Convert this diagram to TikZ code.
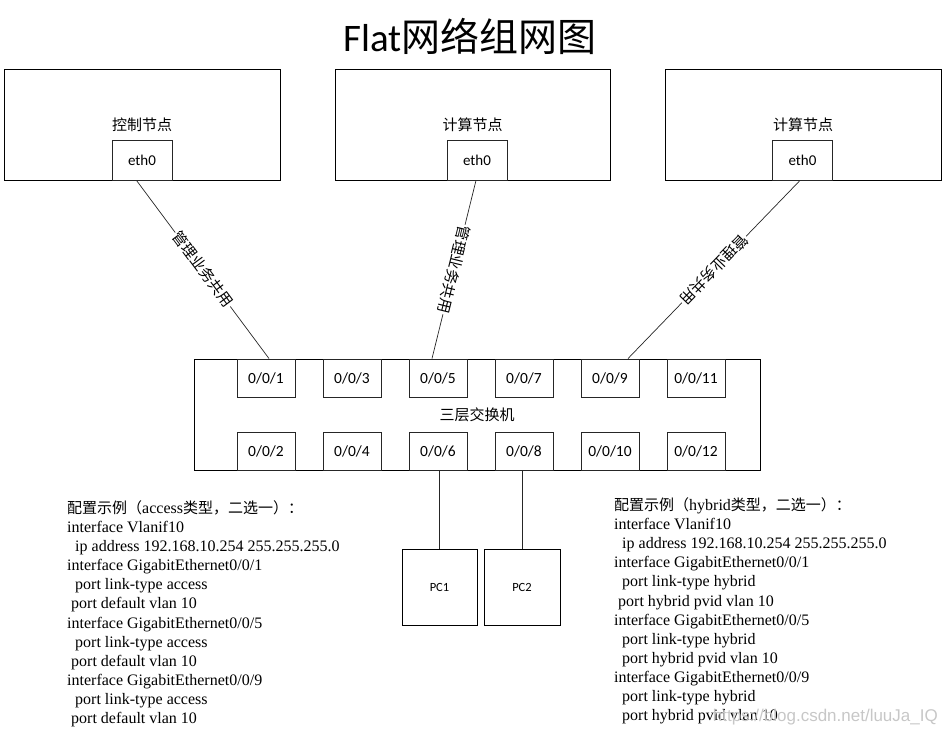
\documentclass[tikz,border=0pt]{standalone}
\usepackage{fontspec}
\setmainfont{Liberation Serif}
\newfontfamily\cjk{Noto Sans CJK SC}
\newfontfamily\calfont{Carlito}
\newfontfamily\wmfont{Liberation Sans}
\begin{document}
\begin{tikzpicture}[x=1pt,y=-1pt,
  bigbox/.style={draw=black,line width=0.9pt,fill=white,inner sep=0pt,font=\cjk\fontsize{15}{18}\selectfont},
  ethbox/.style={draw=black!85,line width=0.9pt,fill=white,minimum width=60pt,minimum height=40pt,inner sep=0pt,font=\calfont\fontsize{15}{18}\selectfont},
  portbox/.style={draw=black!85,line width=0.9pt,fill=white,minimum width=58pt,minimum height=38pt,inner sep=0pt,font=\calfont\fontsize{15.5}{18}\selectfont},
  pcbox/.style={draw=black,line width=0.9pt,fill=white,inner sep=0pt,font=\calfont\fontsize{12.5}{15}\selectfont},
  link/.style={draw=black!85,line width=0.7pt},
  linklabel/.style={sloped,allow upside down,fill=white,inner sep=1pt,font=\cjk\fontsize{15}{18}\selectfont},
  cfg/.style={anchor=base west,inner sep=0pt,font=\fontsize{16}{19}\selectfont}]
\useasboundingbox (0,0) rectangle (946,736);
% title
\node[inner sep=0pt] (title) at (470,36) {\calfont\fontsize{39}{45}\selectfont Flat\cjk 网络组网图};
% top boxes
\node[bigbox,minimum width=276pt,minimum height=111pt] (cn) at (142,124.5) {控制节点};
\node[bigbox,minimum width=275pt,minimum height=111pt] (c1) at (472.5,124.5) {计算节点};
\node[bigbox,minimum width=276pt,minimum height=111pt] (c2) at (803,124.5) {计算节点};
\node[ethbox] (e0) at (142,160) {eth0};
\node[ethbox] (e1) at (477,160) {eth0};
\node[ethbox] (e2) at (802.5,160) {eth0};
% switch
\node[bigbox,minimum width=566pt,minimum height=111pt] (sw) at (477,414.5) {三层交换机};
\node[portbox] (p1) at (266,378) {0/0/1};
\node[portbox] (p3) at (352,378) {0/0/3};
\node[portbox] (p5) at (438,378) {0/0/5};
\node[portbox] (p7) at (524,378) {0/0/7};
\node[portbox] (p9) at (610,378) {0/0/9};
\node[portbox] (p11) at (696,378) {0/0/11};
\node[portbox] (p2) at (266,451) {0/0/2};
\node[portbox] (p4) at (352,451) {0/0/4};
\node[portbox] (p6) at (438,451) {0/0/6};
\node[portbox] (p8) at (524,451) {0/0/8};
\node[portbox] (p10) at (610,451) {0/0/10};
\node[portbox] (p12) at (696,451) {0/0/12};
% PCs
\node[pcbox,minimum width=75pt,minimum height=76pt] (pc1) at (439.5,587) {PC1};
\node[pcbox,minimum width=76pt,minimum height=76pt] (pc2) at (522,587) {PC2};
% links
\draw[link] ([xshift=-5.5pt]e0.south) -- node[linklabel] {管理业务共用} ([xshift=3pt]p1.north);
\draw[link] ([xshift=-1pt]e1.south) -- node[linklabel] {管理业务共用} ([xshift=-6pt]p5.north);
\draw[link] ([xshift=-2.5pt]e2.south) -- node[linklabel] {管理业务共用} ([xshift=18pt]p9.north);
\draw[link] (pc1.north) -- (pc1.north |- p6.south);
\draw[link] (pc2.north) -- (pc2.north |- p8.south);
% left config
\node[cfg] (l1) at (67,513) {{\cjk\fontsize{15}{19}\selectfont 配置示例（}access{\cjk\fontsize{15}{19}\selectfont 类型，二选一）：}};
\node[cfg] (l2) at (67,532) {interface Vlanif10};
\node[cfg] (l3) at (75,551) {ip address 192.168.10.254 255.255.255.0};
\node[cfg] (l4) at (67,570) {interface GigabitEthernet0/0/1};
\node[cfg] (l5) at (75,589) {port link-type access};
\node[cfg] (l6) at (71,608) {port default vlan 10};
\node[cfg] (l7) at (67,628) {interface GigabitEthernet0/0/5};
\node[cfg] (l8) at (75,647) {port link-type access};
\node[cfg] (l9) at (71,666) {port default vlan 10};
\node[cfg] (l10) at (67,685) {interface GigabitEthernet0/0/9};
\node[cfg] (l11) at (75,704) {port link-type access};
\node[cfg] (l12) at (71,723) {port default vlan 10};
% right config
\node[cfg] (r1) at (614,510) {{\cjk\fontsize{15}{19}\selectfont 配置示例（}hybrid{\cjk\fontsize{15}{19}\selectfont 类型，二选一）：}};
\node[cfg] (r2) at (614,529) {interface Vlanif10};
\node[cfg] (r3) at (622,548) {ip address 192.168.10.254 255.255.255.0};
\node[cfg] (r4) at (614,567) {interface GigabitEthernet0/0/1};
\node[cfg] (r5) at (622,586) {port link-type hybrid};
\node[cfg] (r6) at (618,606) {port hybrid pvid vlan 10};
\node[cfg] (r7) at (614,625) {interface GigabitEthernet0/0/5};
\node[cfg] (r8) at (622,644) {port link-type hybrid};
\node[cfg] (r9) at (622,663) {port hybrid pvid vlan 10};
\node[cfg] (r10) at (614,682) {interface GigabitEthernet0/0/9};
\node[cfg] (r11) at (622,701) {port link-type hybrid};
\node[cfg] (r12) at (622,720) {port hybrid pvid vlan 10};
% watermark
\node[anchor=base east,inner sep=0pt,text=black!22,font=\wmfont\fontsize{17}{20}\selectfont] (wm) at (938,721) {https://blog.csdn.net/luuJa\_IQ};
\end{tikzpicture}
\end{document}
